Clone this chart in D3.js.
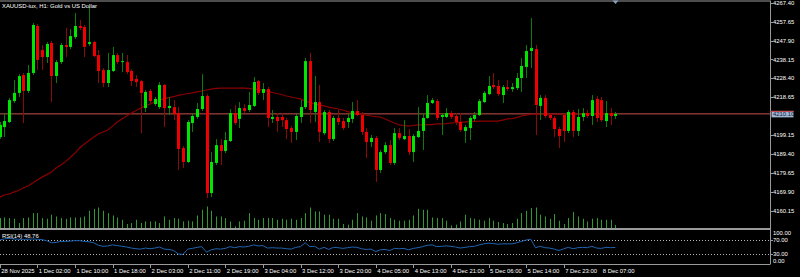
<!DOCTYPE html>
<html>
<head>
<meta charset="utf-8">
<title>XAUUSD-iux, H1</title>
<style>
body { margin: 0; background: #000; }
svg { display: block; }
text { font-family: "Liberation Sans", Arial, sans-serif; font-size: 5.9px; fill: #fff; }
</style>
</head>
<body>
<svg id="chart" width="800" height="277"></svg>
<script src="https://d3js.org/d3.v7.min.js"></script>
<script>
// H1 bars, 28 Nov 2025 .. 8 Dec 2025 10:00
var opens = [
  4198.2, 4203.3, 4205.9, 4216.7, 4220.9, 4230.1, 4221.9, 4231.2, 4255.4, 4243.0,
  4239.4, 4246.6, 4229.6, 4236.8, 4245.6, 4244.6, 4249.7, 4255.4, 4254.9, 4246.1,
  4247.1, 4240.4, 4232.7, 4226.0, 4232.2, 4240.4, 4236.8, 4236.8, 4232.2, 4228.1,
  4227.0, 4213.1, 4221.9, 4215.2, 4213.6, 4225.0, 4213.1, 4213.6, 4210.5, 4192.5,
  4185.3, 4205.4, 4208.5, 4212.6, 4219.3, 4169.3, 4184.8, 4194.0, 4191.0, 4196.1,
  4210.5, 4207.5, 4213.1, 4212.1, 4214.2, 4227.0, 4220.9, 4222.9, 4207.5, 4208.5,
  4208.5, 4206.9, 4202.8, 4200.8, 4208.5, 4213.6, 4237.3, 4211.1, 4216.2, 4200.2,
  4211.1, 4197.1, 4208.0, 4206.4, 4205.9, 4207.5, 4211.6, 4209.5, 4200.8, 4195.6,
  4197.7, 4181.2, 4190.4, 4194.0, 4184.8, 4200.2, 4197.1, 4198.7, 4190.4, 4198.2,
  4201.3, 4208.0, 4215.7, 4216.7, 4208.5, 4208.5, 4210.5, 4209.0, 4205.9, 4201.3,
  4202.8, 4207.5, 4209.5, 4216.2, 4220.3, 4225.0, 4224.5, 4219.8, 4223.9, 4222.9,
  4223.4, 4228.6, 4234.3, 4242.5, 4243.5, 4214.2, 4218.3, 4209.5, 4208.0, 4202.3,
  4209.5, 4201.3, 4211.1, 4201.3, 4208.5, 4210.5, 4209.0, 4217.8, 4217.2, 4206.4,
  4210.5, 4209.0
];
var highs = [
  4205.9, 4210.5, 4218.3, 4227.6, 4230.6, 4231.2, 4235.3, 4256.9, 4256.4, 4245.6,
  4247.1, 4247.7, 4237.9, 4246.6, 4254.4, 4253.8, 4262.1, 4258.5, 4255.9, 4265.2,
  4247.7, 4243.0, 4233.7, 4241.5, 4244.6, 4241.5, 4241.5, 4240.4, 4233.2, 4230.1,
  4227.6, 4222.4, 4222.9, 4218.8, 4226.5, 4225.5, 4218.8, 4217.2, 4213.6, 4193.5,
  4206.9, 4210.5, 4215.7, 4230.6, 4220.3, 4190.4, 4197.1, 4197.1, 4200.8, 4212.6,
  4214.7, 4216.2, 4215.2, 4221.4, 4229.1, 4227.6, 4226.0, 4223.9, 4212.1, 4210.5,
  4210.5, 4208.0, 4203.8, 4210.5, 4217.2, 4238.9, 4241.5, 4229.6, 4225.0, 4212.1,
  4212.1, 4209.0, 4212.1, 4208.0, 4210.0, 4216.2, 4217.2, 4211.1, 4202.8, 4199.2,
  4198.7, 4191.5, 4195.6, 4196.6, 4202.8, 4202.8, 4206.9, 4202.3, 4199.7, 4213.6,
  4210.5, 4219.8, 4218.3, 4217.8, 4210.5, 4213.1, 4211.6, 4210.5, 4210.5, 4204.4,
  4209.0, 4211.1, 4217.8, 4221.9, 4229.6, 4231.2, 4227.6, 4225.0, 4227.6, 4226.0,
  4231.2, 4238.9, 4245.6, 4259.5, 4245.6, 4219.8, 4219.8, 4210.5, 4209.0, 4203.3,
  4210.5, 4212.1, 4212.1, 4212.6, 4213.1, 4212.1, 4219.8, 4219.3, 4218.8, 4216.7,
  4213.1, 4211.1
];
var lows = [
  4197.1, 4198.2, 4205.4, 4215.7, 4218.8, 4205.4, 4220.9, 4230.1, 4232.7, 4232.7,
  4236.3, 4216.2, 4226.0, 4235.8, 4239.4, 4243.5, 4248.7, 4253.3, 4239.4, 4245.1,
  4239.4, 4226.0, 4223.9, 4223.9, 4231.7, 4235.8, 4231.7, 4230.6, 4224.5, 4223.9,
  4200.2, 4211.1, 4215.7, 4214.2, 4212.6, 4203.3, 4209.5, 4206.9, 4181.2, 4182.2,
  4184.8, 4200.8, 4207.5, 4211.6, 4166.7, 4167.2, 4183.7, 4183.7, 4189.9, 4195.6,
  4204.4, 4202.8, 4210.5, 4211.1, 4213.6, 4219.8, 4217.2, 4203.3, 4205.4, 4200.8,
  4203.3, 4197.1, 4195.1, 4196.6, 4205.4, 4212.6, 4205.4, 4205.9, 4195.6, 4199.2,
  4195.1, 4196.1, 4204.4, 4201.8, 4202.8, 4205.4, 4209.0, 4199.2, 4187.3, 4193.0,
  4175.0, 4179.6, 4189.4, 4183.7, 4183.7, 4196.6, 4196.6, 4188.9, 4185.3, 4197.7,
  4191.5, 4207.5, 4215.2, 4206.9, 4199.2, 4208.0, 4207.5, 4204.4, 4200.8, 4195.1,
  4196.6, 4206.4, 4209.0, 4215.7, 4219.8, 4222.9, 4219.3, 4215.7, 4221.9, 4221.4,
  4222.4, 4221.4, 4228.6, 4233.7, 4199.2, 4206.9, 4208.0, 4206.9, 4198.2, 4192.5,
  4195.6, 4200.2, 4198.2, 4198.7, 4206.4, 4208.0, 4204.4, 4205.9, 4205.9, 4203.3,
  4204.4, 4207.5
];
var closes = [
  4204.4, 4206.4, 4217.2, 4220.9, 4229.6, 4221.9, 4231.2, 4255.9, 4237.9, 4239.4,
  4246.1, 4229.6, 4236.8, 4245.6, 4244.6, 4250.2, 4255.4, 4254.4, 4244.6, 4247.1,
  4239.9, 4232.2, 4226.0, 4232.7, 4240.4, 4236.8, 4237.3, 4231.7, 4227.0, 4226.5,
  4220.9, 4221.4, 4216.7, 4217.8, 4225.0, 4213.1, 4214.2, 4210.0, 4192.0, 4185.3,
  4205.9, 4209.0, 4212.6, 4219.3, 4169.3, 4185.3, 4194.0, 4191.0, 4196.6, 4210.5,
  4205.4, 4213.1, 4211.6, 4214.7, 4226.5, 4220.9, 4222.9, 4208.0, 4208.5, 4206.4,
  4206.9, 4202.3, 4200.8, 4209.0, 4213.6, 4237.3, 4212.1, 4216.2, 4200.8, 4211.1,
  4197.1, 4208.0, 4205.9, 4202.8, 4208.0, 4211.6, 4209.5, 4200.8, 4195.6, 4197.7,
  4181.2, 4190.4, 4194.0, 4184.8, 4200.2, 4197.7, 4198.7, 4190.4, 4198.7, 4201.3,
  4208.0, 4215.7, 4217.2, 4208.0, 4209.5, 4210.5, 4208.5, 4205.9, 4201.8, 4203.3,
  4208.0, 4209.5, 4216.7, 4220.9, 4224.5, 4223.9, 4220.3, 4223.9, 4222.9, 4223.9,
  4228.6, 4234.8, 4242.5, 4244.1, 4214.7, 4218.3, 4209.0, 4208.0, 4202.3, 4198.7,
  4201.3, 4211.1, 4201.3, 4208.5, 4210.5, 4209.0, 4217.2, 4208.0, 4206.9, 4210.5,
  4209.0, 4210.1
];
var volumes = [
  5000, 5300, 5000, 4650, 2500, 5000, 5300, 7500, 7500, 5000,
  4650, 6650, 5800, 5000, 4650, 5300, 5300, 5300, 5800, 8650,
  9650, 10300, 8650, 7500, 6300, 5300, 4150, 2000, 2500, 4150,
  2500, 3300, 3300, 3300, 2500, 5800, 4150, 5000, 4650, 3300,
  3650, 3300, 6300, 9150, 10800, 8650, 5800, 5800, 5000, 3300,
  800, 3300, 3650, 7500, 5000, 4150, 5000, 5000, 5000, 4150,
  4650, 4150, 4650, 4150, 5000, 7500, 10300, 8300, 8300, 6650,
  6650, 4650, 4650, 2000, 1650, 4150, 7500, 5800, 5300, 3650,
  6300, 7500, 7000, 5000, 4150, 3650, 3650, 4150, 6300, 9650,
  9150, 9150, 5300, 5000, 5000, 3650, 1300, 1650, 3300, 6650,
  5000, 4650, 4150, 3650, 5000, 3650, 3000, 2500, 2000, 2500,
  4650, 7500, 8650, 10000, 10300, 6650, 5800, 4650, 7000, 3650,
  2000, 5000, 8000, 5800, 4650, 3300, 4650, 5000, 4150, 4150,
  4150, 1500
];
// moving average (dark red curve)
var maValues = [
  4167.2, 4168.3, 4168.8, 4169.8, 4170.6, 4171.9, 4172.9, 4174.5, 4176.0, 4177.5,
  4178.8, 4180.1, 4182.2, 4183.7, 4185.5, 4187.6, 4189.9, 4192.5, 4194.6, 4196.4,
  4198.2, 4199.7, 4200.8, 4201.8, 4203.8, 4205.9, 4207.5, 4209.0, 4210.5, 4211.8,
  4213.1, 4214.2, 4215.2, 4216.2, 4217.2, 4217.8, 4218.5, 4219.0, 4219.6, 4220.1,
  4220.6, 4220.9, 4221.4, 4221.9, 4222.4, 4222.9, 4223.2, 4223.4, 4223.4, 4223.4,
  4223.4, 4223.4, 4223.4, 4223.2, 4222.9, 4222.7, 4222.4, 4221.9, 4221.1, 4220.6,
  4220.1, 4219.3, 4218.8, 4218.3, 4217.8, 4216.7, 4216.0, 4215.2, 4214.7, 4214.2,
  4213.6, 4213.1, 4212.6, 4212.1, 4211.3, 4210.8, 4210.3, 4210.0, 4209.5, 4209.0,
  4208.7, 4208.5, 4207.5, 4206.4, 4205.4, 4204.4, 4204.1, 4203.8, 4204.1, 4204.4,
  4204.4, 4204.6, 4204.6, 4204.9, 4204.9, 4205.1, 4205.4, 4205.6, 4205.9, 4205.9,
  4206.2, 4206.2, 4206.4, 4206.4, 4206.4, 4206.4, 4206.4, 4206.9, 4207.5, 4207.7,
  4208.2, 4209.0, 4209.5, 4209.8, 4210.0, 4210.0, 4210.0, 4210.0, 4210.0, 4210.0,
  4210.0, 4210.1, 4210.1, 4210.1, 4210.1, 4210.1, 4210.2, 4210.2, 4210.2, 4210.2,
  4210.2, 4210.2
];
var rsiValues = [
  70, 73, 75, 73, 72, 72, 72, 73, 72, 71,
  68, 62, 63, 66, 66, 67, 68, 68, 66, 65,
  62, 55, 52, 53, 56, 54, 52, 50, 47, 45,
  44, 47, 45, 47, 50, 44, 43, 40, 30, 29,
  44, 46, 49, 51, 35, 42, 45, 44, 46, 51,
  48, 51, 50, 52, 56, 53, 54, 47, 48, 47,
  47, 45, 44, 49, 51, 62, 51, 52, 44, 49,
  43, 49, 48, 46, 48, 50, 49, 45, 43, 44,
  37, 42, 43, 40, 46, 45, 46, 42, 46, 48,
  51, 55, 56, 51, 52, 53, 52, 50, 47, 49,
  51, 52, 56, 59, 61, 60, 58, 59, 59, 59,
  62, 66, 70, 72, 48, 52, 48, 47, 44, 40,
  45, 49, 45, 48, 49, 48, 52, 47, 46, 49,
  48, 48.76
];
var priceTicks = [4267.40, 4257.65, 4247.90, 4238.15, 4228.40, 4218.65, 4199.15, 4189.40, 4179.65, 4169.90, 4160.15];
var rsiTicks = [100, 70, 30, 0];
var rsiLevels = [70, 30];
var timeLabels = ["28 Nov 2025", "1 Dec 02:00", "1 Dec 10:00", "1 Dec 18:00", "2 Dec 03:00", "2 Dec 11:00",
  "2 Dec 19:00", "3 Dec 04:00", "3 Dec 12:00", "3 Dec 20:00", "4 Dec 05:00", "4 Dec 13:00",
  "4 Dec 21:00", "5 Dec 06:00", "5 Dec 14:00", "7 Dec 23:00", "8 Dec 07:00"];
var lastPrice = 4210.10;
var lastRsi = 48.76;

var N = closes.length;
var svg = d3.select("#chart");
var axisX = 770;

var x = d3.scaleLinear().domain([0, N - 1]).range([-0.3, 615.4]);
var y = d3.scaleLinear().domain([4160.15, 4267.40]).range([210.8, 2.7]);
var yVol = d3.scaleLinear().domain([0, d3.max(volumes)]).range([228, 206.5]);
var yRsi = d3.scaleLinear().domain([0, 100]).range([264.5, 229.5]);

svg.append("rect").attr("width", 800).attr("height", 277).attr("fill", "#000");

var defs = svg.append("defs");
defs.append("clipPath").attr("id", "mainClip")
  .append("rect").attr("x", 0).attr("y", 1.5).attr("width", axisX).attr("height", 226.5);
defs.append("clipPath").attr("id", "rsiClip")
  .append("rect").attr("x", 0).attr("y", 230.5).attr("width", axisX).attr("height", 33.5);

var main = svg.append("g").attr("clip-path", "url(#mainClip)");
var bars = d3.range(N);

// volumes
main.append("g").selectAll("line").data(bars).enter().append("line")
  .attr("x1", function(i) { return Math.round(x(i)) + 0.5; })
  .attr("x2", function(i) { return Math.round(x(i)) + 0.5; })
  .attr("y1", yVol(0))
  .attr("y2", function(i) { return yVol(volumes[i]); })
  .attr("stroke", "#2f9a2f").attr("stroke-width", 1);

// bid line
main.append("line")
  .attr("x1", 0).attr("x2", axisX)
  .attr("y1", y(lastPrice)).attr("y2", y(lastPrice))
  .attr("stroke", "#c85050").attr("stroke-width", 1);

// moving average
main.append("path")
  .datum(bars)
  .attr("fill", "none")
  .attr("stroke", "#8a0000")
  .attr("stroke-width", 1.2)
  .attr("d", d3.line().x(function(i) { return x(i); }).y(function(i) { return y(maValues[i]); }));

// candles
var candle = main.append("g").selectAll("g").data(bars).enter().append("g");
candle.append("line")
  .attr("x1", function(i) { return Math.round(x(i)) + 0.5; })
  .attr("x2", function(i) { return Math.round(x(i)) + 0.5; })
  .attr("y1", function(i) { return y(highs[i]); })
  .attr("y2", function(i) { return y(lows[i]); })
  .attr("stroke", function(i) { return closes[i] >= opens[i] ? "#0d7a0d" : "#8a0a0a"; });
candle.append("rect")
  .attr("x", function(i) { return Math.round(x(i)) - 1; })
  .attr("width", 3)
  .attr("y", function(i) { return y(Math.max(opens[i], closes[i])); })
  .attr("height", function(i) { return Math.max(1, Math.abs(y(opens[i]) - y(closes[i]))); })
  .attr("fill", function(i) { return closes[i] >= opens[i] ? "#00e600" : "#f00000"; });

// frames
var frame = "#9a9a9a";
svg.append("line").attr("x1", 0).attr("x2", axisX).attr("y1", 1).attr("y2", 1).attr("stroke", frame);
svg.append("rect").attr("x", 0).attr("y", 228).attr("width", axisX).attr("height", 2).attr("fill", frame);
svg.append("line").attr("x1", 0).attr("x2", axisX).attr("y1", 264.5).attr("y2", 264.5).attr("stroke", frame);
svg.append("line").attr("x1", axisX + 0.5).attr("x2", axisX + 0.5).attr("y1", 0.5).attr("y2", 264.5).attr("stroke", frame);

// chart shift marker
svg.append("path")
  .attr("d", d3.line()([[612.5, 0.5], [618.5, 0.5], [615.5, 4]]))
  .attr("fill", "#8aa0bc");

// title
svg.append("text").attr("x", 2).attr("y", 7.5).text("XAUUSD-iux, H1:  Gold vs US Dollar");

// price axis
var pa = svg.append("g");
pa.selectAll("line").data(priceTicks).enter().append("line")
  .attr("x1", axisX).attr("x2", axisX + 3)
  .attr("y1", function(d) { return Math.round(y(d)) + 0.5; })
  .attr("y2", function(d) { return Math.round(y(d)) + 0.5; })
  .attr("stroke", frame);
pa.selectAll("text").data(priceTicks).enter().append("text")
  .attr("x", axisX + 3)
  .attr("y", function(d) { return y(d) + 2.1; })
  .text(function(d) { return d3.format(".2f")(d); });

// last price label
svg.append("rect")
  .attr("x", axisX + 1.5).attr("y", y(lastPrice) - 3)
  .attr("width", 22).attr("height", 6.5)
  .attr("fill", "#9fb4d2");
svg.append("line")
  .attr("x1", axisX).attr("x2", axisX + 23.5)
  .attr("y1", y(lastPrice) - 2.5).attr("y2", y(lastPrice) - 2.5)
  .attr("stroke", "#d04040");
svg.append("text")
  .attr("x", axisX + 3).attr("y", y(lastPrice) + 2.3)
  .style("fill", "#10203a")
  .text(d3.format(".2f")(lastPrice));

// RSI window
var rsi = svg.append("g").attr("clip-path", "url(#rsiClip)");
rsi.selectAll("line").data(rsiLevels).enter().append("line")
  .attr("x1", 0).attr("x2", axisX)
  .attr("y1", function(d) { return Math.round(yRsi(d)) + 0.5; })
  .attr("y2", function(d) { return Math.round(yRsi(d)) + 0.5; })
  .attr("stroke", "#b8b8b8").attr("stroke-dasharray", "1,2");
rsi.append("path")
  .datum(bars)
  .attr("fill", "none")
  .attr("stroke", "#1f63b0")
  .attr("stroke-width", 1)
  .attr("d", d3.line().x(function(i) { return x(i); }).y(function(i) { return yRsi(rsiValues[i]); }));

svg.append("text").attr("x", 2).attr("y", 238).text("RSI(14) " + d3.format(".2f")(lastRsi));

svg.append("g").selectAll("text").data(rsiTicks).enter().append("text")
  .attr("x", axisX + 3)
  .attr("y", function(d) { return Math.min(262.5, Math.max(234.5, yRsi(d) + 2.1)); })
  .text(function(d) { return d3.format(".2f")(d); });
svg.append("g").selectAll("line").data(rsiLevels).enter().append("line")
  .attr("x1", axisX).attr("x2", axisX + 3)
  .attr("y1", function(d) { return Math.round(yRsi(d)) + 0.5; })
  .attr("y2", function(d) { return Math.round(yRsi(d)) + 0.5; })
  .attr("stroke", frame);

// time axis
var ta = svg.append("g");
ta.selectAll("line").data(timeLabels).enter().append("line")
  .filter(function(d, k) { return k > 0; })
  .attr("x1", function(d, k) { return Math.round(x(k * 8)) + 0.5; })
  .attr("x2", function(d, k) { return Math.round(x(k * 8)) + 0.5; })
  .attr("y1", 264.5).attr("y2", 268)
  .attr("stroke", frame);
ta.selectAll("text").data(timeLabels).enter().append("text")
  .attr("x", function(d, k) { return Math.max(0, x(k * 8) + 1.5); })
  .attr("y", 272.5)
  .text(function(d) { return d; });
</script>
</body>
</html>
